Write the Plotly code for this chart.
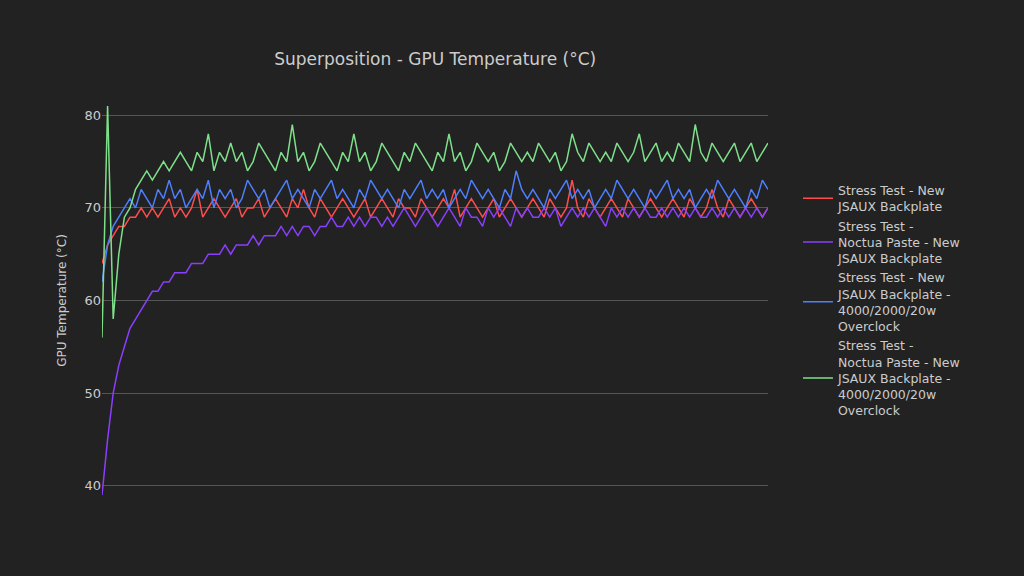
import plotly.graph_objects as go

names = ["Stress Test - New<br>JSAUX Backplate",
         "Stress Test -<br>Noctua Paste - New<br>JSAUX Backplate",
         "Stress Test - New<br>JSAUX Backplate -<br>4000/2000/20w<br>Overclock",
         "Stress Test -<br>Noctua Paste - New<br>JSAUX Backplate -<br>4000/2000/20w<br>Overclock"]

red = [64,66,67,68,68,69,69,70,69,70,69,70,71,69,70,69,70,72,69,70,71,70,69,70,71,69,70,70,71,69,70,71,70,69,71,70,72,70,69,71,70,69,70,71,70,69,70,71,69,70,71,70,69,71,70,70,69,71,70,69,70,71,70,72,69,70,71,70,69,70,71,69,70,71,70,69,70,71,70,69,71,70,69,70,73,70,69,71,70,69,70,71,70,69,71,70,69,70,71,70,69,70,71,70,69,71,70,69,70,72,70,69,71,70,69,70,71,70,69,70]
purple = [39,45,50,53,55,57,58,59,60,61,61,62,62,63,63,63,64,64,64,65,65,65,66,65,66,66,66,67,66,67,67,67,68,67,68,67,68,68,67,68,68,69,68,68,69,68,69,68,69,69,68,69,68,69,70,69,68,69,70,69,68,69,70,69,68,70,69,69,68,70,69,70,69,68,70,69,70,69,69,70,69,70,68,69,70,69,70,69,70,69,68,70,69,70,69,70,69,70,69,69,70,69,70,69,70,69,70,69,69,70,69,70,69,70,69,70,69,70,69,70]
blue = [62,66,68,69,70,71,70,72,71,70,72,71,73,71,72,70,71,72,71,73,70,72,71,72,70,71,73,72,71,72,70,71,72,73,71,72,71,70,72,71,72,73,71,72,71,70,72,71,73,72,71,72,71,70,72,71,72,73,71,72,71,72,70,71,72,71,73,72,71,72,71,70,72,71,74,72,71,72,71,70,72,71,72,73,71,72,71,72,70,71,72,71,73,72,71,72,71,70,72,71,72,73,71,72,71,72,70,71,72,71,73,72,71,72,71,70,72,71,73,72]
green = [56,81,58,65,69,70,72,73,74,73,74,75,74,75,76,75,74,76,75,78,74,76,75,77,75,76,74,75,77,76,75,74,76,75,79,75,76,74,75,77,76,75,74,76,75,78,75,76,74,75,77,76,75,74,76,75,77,76,75,74,76,75,78,75,76,74,75,77,76,75,76,74,75,77,76,75,76,75,77,76,75,76,74,75,78,76,75,77,76,75,76,75,77,76,75,76,78,75,76,77,75,76,75,77,76,75,79,76,75,77,76,75,76,77,75,76,77,75,76,77]

series = [red, purple, blue, green]
colors = ["#ff4d4d", "#8a3ffc", "#4d7fff", "#7ee08a"]

fig = go.Figure()
for n, s, c in zip(names, series, colors):
    fig.add_trace(go.Scatter(x=list(range(len(s))), y=s, mode="lines", name=n,
                             line=dict(color=c, width=1.5)))

fig.update_layout(
    width=1024, height=576,
    paper_bgcolor="#222222", plot_bgcolor="#222222",
    font=dict(family="DejaVu Sans", color="#cccccc", size=12),
    title=dict(text="Superposition - GPU Temperature (°C)", x=0.425, y=0.907, xanchor="center", font=dict(size=17)),
    margin=dict(l=102, r=256, t=106, b=81),
    xaxis=dict(visible=False, range=[0, len(red) - 1]),
    yaxis=dict(title=dict(text="GPU Temperature (°C)", font=dict(size=12)), range=[39, 81],
               tickvals=[40, 50, 60, 70, 80], gridcolor="#555555", zeroline=False, showline=False,
               tickfont=dict(size=13)),
    legend=dict(x=1.045, y=0.5, yanchor="middle", bgcolor="rgba(0,0,0,0)", font=dict(size=12.5), tracegroupgap=10),
    showlegend=True,
)
fig.write_html("out.html", config={"displayModeBar": False},
               post_script="document.body.style.margin='0';document.body.style.background='#222222';")
